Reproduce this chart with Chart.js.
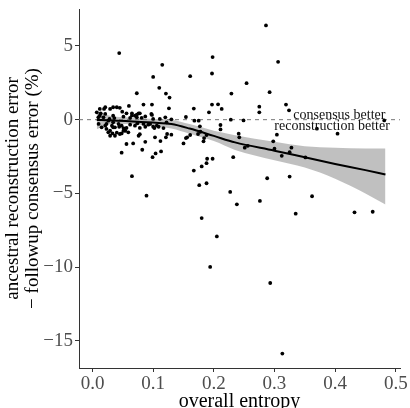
<!DOCTYPE html>
<html><head><meta charset="utf-8">
<script src="https://cdn.jsdelivr.net/npm/chart.js@4/dist/chart.umd.min.js"></script>
<style>html,body{margin:0;padding:0;background:#fff}</style>
</head><body>
<canvas id="c" width="410" height="408"></canvas>
<script>
// ---- data ----
const entropy = [
 0.044,0.115,0.198,0.197,0.100,0.161,0.110,0.073,0.121,0.127,0.229,0.060,0.084,0.098,0.126,0.197,0.207,0.213,0.192,0.167,
 0.154,0.228,0.168,0.175,0.211,0.048,0.056,0.067,0.076,0.078,0.087,0.082,0.099,0.104,0.113,0.103,0.112,0.121,0.123,0.065,
 0.089,0.150,0.156,0.167,0.176,0.188,0.180,0.188,0.189,0.198,0.183,0.174,0.184,0.232,0.227,0.180,0.205,0.194,0.286,0.306,
 0.254,0.292,0.275,0.275,0.319,0.324,0.249,0.370,0.404,0.481,0.304,0.298,0.241,0.242,0.251,0.256,0.300,0.328,0.325,0.312,
 0.351,0.288,0.325,0.238,0.276,0.335,0.362,0.432,0.462,0.293,0.313,0.130,0.177,0.102,0.109,0.117,0.130,0.154,0.161,0.188,
 0.178,0.211,0.098,
 0.019,0.034,0.040,0.045,0.049,0.056,0.065,0.073,0.078,0.087,0.097,0.0135,0.0096,0.021,0.028,0.036,0.023,0.032,0.037,0.044,
 0.051,0.026,0.033,0.040,0.048,0.054,0.074,0.084,0.095,0.106,
 0.007,0.012,0.010,0.015,0.021,0.023,0.029,0.034,0.045,0.051,0.037,0.029,0.018,0.029,0.034,0.051,0.062,0.070,0.076,0.081,
 0.092,0.100,0.087,0.078,0.070,0.062,0.056,0.034,0.026,0.059,0.048,0.043,0.073,0.120,0.111,0.100,0.122,0.012,0.021,0.065
];
const errorDiff = [
 4.51,3.72,4.24,3.13,2.90,2.95,2.16,1.79,1.77,1.50,1.77,0.93,1.02,1.02,0.77,1.02,1.04,0.73,0.50,0.75,
 0.18,0.00,-0.07,-0.07,-0.36,-2.24,-1.65,-1.61,-1.09,-0.98,-1.50,-2.04,-2.54,-2.29,-2.15,-1.20,-1.45,-1.20,-0.97,-3.83,
 -5.15,-1.61,-1.20,-3.45,-4.44,-4.31,-3.17,-2.95,-2.65,-2.65,-1.47,-0.97,-1.25,-2.54,-4.90,-6.67,-7.91,-9.98,6.39,3.92,
 2.47,1.86,0.88,0.50,1.02,0.63,-0.05,-0.61,-0.95,-0.05,-1.02,-1.47,-0.95,-1.20,-1.90,-1.77,-1.97,-1.90,-2.20,-2.45,
 -2.56,-3.97,-3.86,-5.74,-5.51,-6.37,-5.19,-6.28,-6.24,-11.07,-15.85,0.02,-0.45,-0.57,-0.48,-0.57,-1.02,-1.25,-1.04,-1.04,
 -0.82,-0.66,0.32,
 0.73,0.84,0.84,0.80,0.54,0.43,0.29,0.34,0.43,0.22,0.39,0.43,0.16,0.39,0.05,0.11,-0.29,-0.41,-0.52,-0.48,
 -0.57,-0.86,-0.93,-0.88,-0.93,-0.75,-0.25,-0.29,-0.29,-0.41,
 0.50,0.27,-0.29,-0.52,-0.41,-0.63,-0.75,-0.52,-0.97,-0.75,-1.09,-1.09,0.16,0.73,0.27,0.20,0.12,0.27,0.43,0.12,
 -0.34,-0.48,-0.48,-0.56,-0.41,-0.34,-0.56,-0.18,-0.07,-0.86,-0.41,-0.29,0.16,0.16,0.05,0.05,-0.18,0.73,0.84,0.43
];
const smoothX   = [0.007, 0.03, 0.06, 0.10, 0.13, 0.16, 0.20, 0.235, 0.30, 0.35, 0.40, 0.45, 0.483];
const smoothY   = [-0.02, -0.05, -0.1, -0.2, -0.3, -0.6, -1.1, -1.54, -2.1, -2.55, -3.0, -3.42, -3.72];
const bandUpper = [0.6, 0.25, 0.15, 0.05, 0.0, -0.3, -0.75, -1.05, -1.5, -1.8, -1.9, -1.95, -1.95];
const bandLower = [-0.65, -0.3, -0.3, -0.45, -0.6, -0.95, -1.45, -2.05, -2.75, -3.25, -4.0, -5.0, -5.75];
const xTicks = [0, 0.1, 0.2, 0.3, 0.4, 0.5];
const xTickLabels = ["0.0", "0.1", "0.2", "0.3", "0.4", "0.5"];
const yTicks = [-15, -10, -5, 0, 5];
const yTickLabels = ["\u221215", "\u221210", "\u22125", "0", "5"];
const xRange = [-0.0223, 0.507];
const yRange = [-16.83, 7.5];
const refLineY = [0, 0];
const noteText = ["consensus better", "reconstruction better"];
const noteX = [0.407, 0.395];
const noteY = [0.32, -0.48];
const xTitle = "overall entropy";
const yTitle = ["ancestral reconstruction error", "\u2212 followup consensus error (%)"];

// ---- build chart ----
const SERIF = "'Liberation Serif', 'Times New Roman', serif";
const pts = entropy.map((x, i) => ({x, y: errorDiff[i]}));
const zip = (xs, ys) => xs.map((x, i) => ({x, y: ys[i]}));

const notesPlugin = {
  id: 'notes',
  afterDatasetsDraw(chart) {
    const {ctx, scales: {x, y}} = chart;
    ctx.save();
    ctx.font = "14px " + SERIF;
    ctx.fillStyle = '#111';
    ctx.textAlign = 'center';
    ctx.textBaseline = 'middle';
    noteText.forEach((t, i) => ctx.fillText(t, x.getPixelForValue(noteX[i]), y.getPixelForValue(noteY[i])));
    ctx.restore();
  }
};

new Chart(document.getElementById('c'), {
  type: 'line',
  data: {
    datasets: [
      {label: 'upper', data: zip(smoothX, bandUpper), fill: '+1', backgroundColor: 'rgba(150,150,150,0.6)',
       borderWidth: 0, pointRadius: 0, cubicInterpolationMode: 'monotone', order: 5},
      {label: 'lower', data: zip(smoothX, bandLower), fill: false, borderWidth: 0, pointRadius: 0,
       cubicInterpolationMode: 'monotone', order: 4},
      {label: 'zero', data: zip(xRange, refLineY), borderColor: '#777', borderWidth: 1, borderDash: [4, 4],
       pointRadius: 0, fill: false, order: 3},
      {label: 'points', data: pts, showLine: false, pointRadius: 1.9, pointBackgroundColor: '#000',
       pointBorderWidth: 0, order: 2},
      {label: 'smooth', data: zip(smoothX, smoothY), borderColor: '#000', borderWidth: 2, pointRadius: 0,
       cubicInterpolationMode: 'monotone', fill: false, order: 1}
    ]
  },
  options: {
    responsive: false,
    animation: false,
    devicePixelRatio: 1,
    layout: {padding: {left: 0, right: 10, top: 9, bottom: 0}},
    plugins: {legend: {display: false}, tooltip: {enabled: false}},
    scales: {
      x: {
        type: 'linear', min: xRange[0], max: xRange[1],
        afterBuildTicks: s => { s.ticks = xTicks.map(v => ({value: v})); },
        afterFit: s => { s.height = 40; s.paddingLeft = 0; s.paddingRight = 0; },
        ticks: {callback: (v, i) => xTickLabels[i], font: {family: SERIF, size: 19}, color: '#4d4d4d',
                padding: 1, maxRotation: 0, autoSkip: false},
        grid: {drawOnChartArea: false, drawTicks: true, tickLength: 4, color: '#333'},
        border: {display: true, color: '#333', width: 1},
        title: {display: true, text: xTitle, font: {family: SERIF, size: 20, lineHeight: 1.05}, color: '#000',
                padding: {top: 0, bottom: -4}}
      },
      y: {
        type: 'linear', min: yRange[0], max: yRange[1],
        afterBuildTicks: s => { s.ticks = yTicks.map(v => ({value: v})); },
        afterFit: s => { s.width = 79; s.paddingTop = 0; s.paddingBottom = 0; },
        ticks: {callback: (v, i) => yTickLabels[i], font: {family: SERIF, size: 19}, color: '#4d4d4d',
                padding: 2, autoSkip: false},
        grid: {drawOnChartArea: false, drawTicks: true, tickLength: 4, color: '#333'},
        border: {display: true, color: '#333', width: 1},
        title: {display: true, text: yTitle, font: {family: SERIF, size: 19, lineHeight: 1.05}, color: '#000',
                padding: {top: 3, bottom: 0}}
      }
    }
  },
  plugins: [notesPlugin]
});
</script>
</body></html>
